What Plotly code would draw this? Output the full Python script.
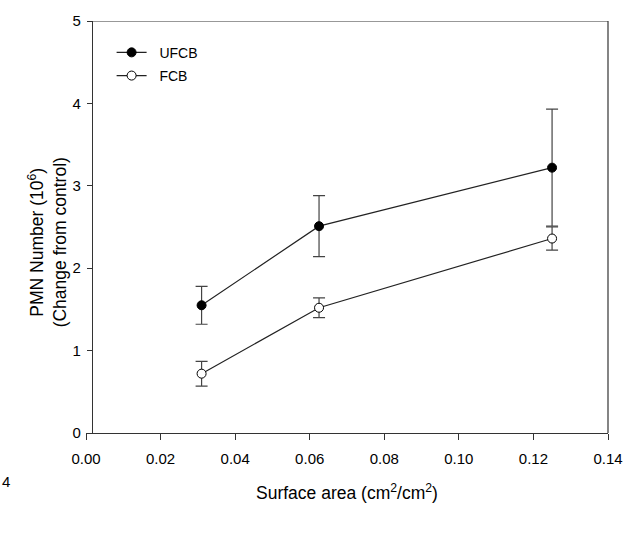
import plotly.graph_objects as go

surface_area = [0.031, 0.0625, 0.125]
ufcb_mean = [1.55, 2.51, 3.22]
ufcb_err = [0.23, 0.37, 0.71]
fcb_mean = [0.72, 1.52, 2.36]
fcb_err = [0.15, 0.12, 0.14]
series_names = ["UFCB", "FCB"]

x_ticks = [0.00, 0.02, 0.04, 0.06, 0.08, 0.10, 0.12, 0.14]
y_ticks = [0, 1, 2, 3, 4, 5]

W, H = 635, 535
ML, MR, MT, MB = 86, 19, 15, 102
PW = W - ML - MR
PH = H - MT - MB
yaxis_pos = 6 / PW
PAD = "\u00a0\u00a0"

fig = go.Figure()
fig.add_trace(go.Scatter(
    x=surface_area, y=ufcb_mean, name=PAD + series_names[0], mode="lines+markers",
    legendgroup="a",
    line=dict(color="#222", width=1.2),
    marker=dict(symbol="circle", size=9, color="black", line=dict(color="black", width=1)),
    error_y=dict(type="data", array=ufcb_err, visible=True, color="#444", thickness=1.2, width=6),
))
fig.add_trace(go.Scatter(
    x=surface_area, y=fcb_mean, name=PAD + series_names[1], mode="lines+markers",
    legendgroup="b",
    line=dict(color="#222", width=1.2),
    marker=dict(symbol="circle", size=9, color="white", line=dict(color="black", width=1)),
    error_y=dict(type="data", array=fcb_err, visible=True, color="#444", thickness=1.2, width=6),
))

fig.update_layout(
    width=W, height=H,
    margin=dict(l=ML, r=MR, t=MT, b=MB),
    paper_bgcolor="white", plot_bgcolor="white",
    font=dict(family="Liberation Sans, Arial, sans-serif", color="black", size=15),
    showlegend=True,
    legend=dict(x=(112 - ML) / PW, y=1 - 16 / PH, xanchor="left", yanchor="top",
                bgcolor="rgba(0,0,0,0)", font=dict(size=14), traceorder="grouped",
                tracegroupgap=2, itemwidth=30),
    xaxis=dict(range=[0, 0.14], tickvals=x_ticks, ticktext=[f"{v:.2f}" for v in x_ticks],
               showgrid=False, zeroline=False, showline=True, linecolor="#333", linewidth=1.2,
               ticks="outside", ticklen=6, tickcolor="#333", domain=[0, 1],
               ticklabelstandoff=6, tickfont=dict(size=15)),
    yaxis=dict(range=[0, 5], tickvals=y_ticks, showgrid=False, zeroline=False,
               showline=True, linecolor="#333", linewidth=1.2, ticks="outside", ticklen=5,
               tickcolor="#333", anchor="free", position=yaxis_pos,
               ticklabelstandoff=3, tickfont=dict(size=15)),
)

# frame (top and right)
fig.add_shape(type="line", xref="paper", yref="y", x0=yaxis_pos, x1=1, y0=5, y1=5,
              line=dict(color="#333", width=1.2))
fig.add_shape(type="line", xref="paper", yref="y", x0=1, x1=1, y0=0, y1=5,
              line=dict(color="#333", width=1.2))

fig.add_annotation(text="PMN Number (10<sup>6</sup>)<br>(Change from control)",
                   xref="paper", yref="paper", x=(47 - ML) / PW, y=(433 - 240) / PH,
                   xanchor="center", yanchor="middle", textangle=-90, showarrow=False,
                   font=dict(size=17.5))
fig.add_annotation(text="Surface area (cm<sup>2</sup>/cm<sup>2</sup>)",
                   xref="paper", yref="paper", x=(351 - ML) / PW, y=-(493 - 433) / PH,
                   xanchor="center", yanchor="middle", showarrow=False, font=dict(size=17.5))
fig.add_annotation(text="4", xref="paper", yref="paper", x=(5 - ML) / PW, y=-(482 - 433) / PH,
                   xanchor="center", yanchor="middle", showarrow=False, font=dict(size=15))

fig.write_html("out.html")
